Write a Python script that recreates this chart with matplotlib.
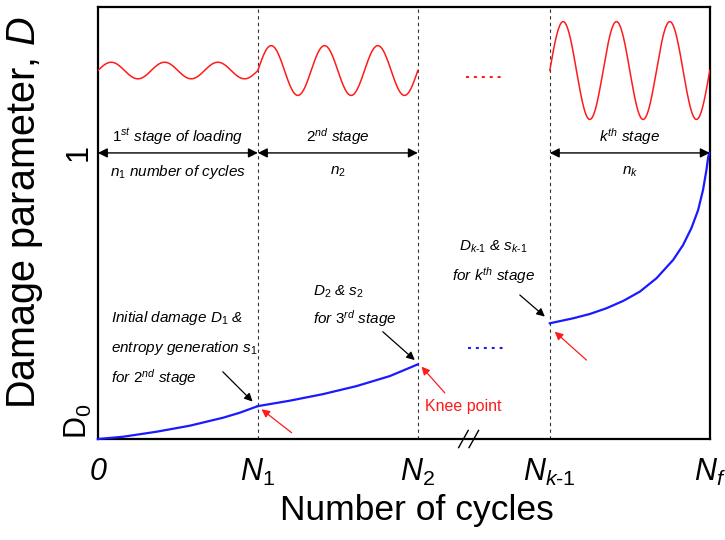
import numpy as np
import matplotlib
matplotlib.use("Agg")
import matplotlib.pyplot as plt
from matplotlib import font_manager

plt.rcParams['font.family'] = ['Liberation Sans', 'DejaVu Sans']
plt.rcParams['mathtext.fontset'] = 'custom'
plt.rcParams['mathtext.rm'] = 'Liberation Sans'
plt.rcParams['mathtext.it'] = 'Liberation Sans:italic'
plt.rcParams['mathtext.bf'] = 'Liberation Sans:bold'

installed = {f.name for f in font_manager.fontManager.ttflist}
has_narrow = 'Liberation Sans Narrow' in installed
label_font = ['Liberation Sans Narrow', 'Liberation Sans'] if has_narrow else ['Liberation Sans']

# ---- data ----
x_ticks = [0.0, 1.0, 2.0, 2.825, 3.825]
x_ticklabels = ['0', r'$\mathit{N_1}$', r'$\mathit{N_2}$',
                r'$\mathit{N_{k\text{-}1}}$', r'$\mathit{N_f}$']
y_ticks = [0.0, 1.0]
y_ticklabels = [r'D$_\mathregular{0}$', '1']

# damage evolution in each loading stage
stage1_x = [0.0, 0.158, 0.367, 0.575, 0.783, 0.8875, 1.0]
stage1_D = [0.0, 0.008, 0.0255, 0.0466, 0.0745, 0.092, 0.115]
stage2_x = [1.0, 1.2, 1.408, 1.617, 1.825, 2.0]
stage2_D = [0.115, 0.134, 0.157, 0.185, 0.22, 0.261]
stagek_x = [2.825, 2.971, 3.075, 3.179, 3.283, 3.3875, 3.492, 3.596,
            3.658, 3.71, 3.752, 3.783, 3.804, 3.815, 3.822]
stagek_D = [0.4045, 0.422, 0.437, 0.457, 0.4825, 0.515, 0.562, 0.626,
            0.678, 0.737, 0.80, 0.871, 0.94, 0.985, 1.0]

# loading waveform of each stage
wave_start = [0.0, 1.0, 2.825]
wave_amp = [0.029, 0.087, 0.171]
wave_cycles = 3
wave_level = 1.288

stage_bounds = [(0.0, 1.0), (1.0, 2.0), (2.825, 3.825)]
x_max, y_max = 3.825, 1.51

fig = plt.figure(figsize=(7.25, 5.4), dpi=100)
ax = fig.add_axes([0.135, 0.187, 0.844, 0.8])
ax.set_xlim(0, x_max)
ax.set_ylim(0, y_max)

for s in ax.spines.values():
    s.set_linewidth(1.6)

# stage boundaries
for xb in x_ticks[1:4]:
    ax.plot([xb, xb], [0, y_max], color='#333333', lw=0.8,
            ls=(0, (3, 3)), zorder=1)

# damage curves
blue = '#1a1aff'
for xs, ds in [(stage1_x, stage1_D), (stage2_x, stage2_D), (stagek_x, stagek_D)]:
    ax.plot(xs, ds, color=blue, lw=1.6, zorder=3, clip_on=False,
            solid_joinstyle='round')

# loading waves
red = '#ff1a1a'
for x0, a in zip(wave_start, wave_amp):
    t = np.linspace(0, 1, 400)
    ax.plot(x0 + t, wave_level + a * np.sin(2 * np.pi * wave_cycles * t),
            color=red, lw=1.1, zorder=3)

# ellipsis for omitted stages
ax.plot([2.304, 2.537], [1.267, 1.267], color=red, lw=1.5,
        ls=(0, (1.4, 2.4)), solid_capstyle='butt')
ax.plot([2.3125, 2.544], [0.317, 0.317], color=blue, lw=1.5,
        ls=(0, (1.4, 2.4)), solid_capstyle='butt')

# stage spans at D = 1
for xa, xb in stage_bounds:
    ax.annotate('', xy=(xb, 1.0), xytext=(xa, 1.0),
                arrowprops=dict(arrowstyle='<|-|>', color='black', lw=1.0,
                                mutation_scale=14, shrinkA=0, shrinkB=0))

fs = 11
ax.text(0.5, 1.057, r'$\mathit{1^{st}}$ stage of loading', ha='center', va='center',
        fontsize=fs, style='italic')
ax.text(1.5, 1.057, r'$\mathit{2^{nd}}$ stage', ha='center', va='center',
        fontsize=fs, style='italic')
ax.text(3.325, 1.057, r'$\mathit{k^{th}}$ stage', ha='center', va='center',
        fontsize=fs, style='italic')
ax.text(0.5, 0.935, r'$\mathit{n_1}$ number of cycles', ha='center', va='center',
        fontsize=fs, style='italic')
ax.text(1.5, 0.935, r'$\mathit{n_2}$', ha='center', va='center',
        fontsize=fs, style='italic')
ax.text(3.325, 0.935, r'$\mathit{n_k}$', ha='center', va='center',
        fontsize=fs, style='italic')

ax.text(0.081, 0.423, r'Initial damage $\mathit{D_1}$ &', ha='left', va='center',
        fontsize=fs, style='italic')
ax.text(0.081, 0.318, r'entropy generation $\mathit{s_1}$', ha='left', va='center',
        fontsize=fs, style='italic')
ax.text(0.081, 0.214, r'for $\mathit{2^{nd}}$ stage', ha='left', va='center',
        fontsize=fs, style='italic')
ax.text(1.342, 0.515, r'$\mathit{D_2}$ & $\mathit{s_2}$', ha='left', va='center',
        fontsize=fs, style='italic')
ax.text(1.342, 0.422, r'for $\mathit{3^{rd}}$ stage', ha='left', va='center',
        fontsize=fs, style='italic')
ax.text(2.475, 0.672, r'$\mathit{D_{k\text{-}1}}$ & $\mathit{s_{k\text{-}1}}$',
        ha='center', va='center', fontsize=fs, style='italic')
ax.text(2.475, 0.573, r'for $\mathit{k^{th}}$ stage', ha='center', va='center',
        fontsize=fs, style='italic')
ax.text(2.044, 0.113, 'Knee point', ha='left', va='center', fontsize=11.5,
        color=red)

# pointer arrows
black_arrows = [((0.781, 0.235), (0.967, 0.131)),
                ((1.781, 0.375), (1.981, 0.276)),
                ((2.6375, 0.5035), (2.794, 0.428))]
red_arrows = [((1.211, 0.022), (1.023, 0.104)),
              ((2.169, 0.161), (2.023, 0.253)),
              ((3.054, 0.276), (2.856, 0.375))]
for (x0, y0), (x1, y1) in black_arrows:
    ax.annotate('', xy=(x1, y1), xytext=(x0, y0),
                arrowprops=dict(arrowstyle='-|>', color='black', lw=0.9,
                                mutation_scale=12, shrinkA=0, shrinkB=0))
for (x0, y0), (x1, y1) in red_arrows:
    ax.annotate('', xy=(x1, y1), xytext=(x0, y0),
                arrowprops=dict(arrowstyle='-|>', color=red, lw=0.9,
                                mutation_scale=12, shrinkA=0, shrinkB=0))

# axis break marks
for xb in [2.255, 2.32]:
    ax.plot([xb, xb + 0.06], [-0.03, 0.03], color='black', lw=1.0,
            clip_on=False, zorder=5)

# axes ticks and labels
ax.set_xticks(x_ticks)
ax.set_xticklabels(x_ticklabels, fontsize=22)
ax.get_xticklabels()[0].set_fontstyle('italic')
ax.set_yticks(y_ticks)
ax.set_yticklabels(y_ticklabels, fontsize=22, rotation=90, va='center')
ax.get_yticklabels()[0].set_va('bottom')
ax.tick_params(axis='x', length=0, pad=13)
ax.tick_params(axis='y', length=0, pad=3)

ax.set_xlabel('Number of cycles', fontsize=29 if has_narrow else 25.5,
              family=label_font)
ax.xaxis.set_label_coords(0.522, -0.128)
ax.set_ylabel(r'Damage parameter, $\mathit{D}$', fontsize=28.5)
ax.yaxis.set_label_coords(-0.086, 0.525)

fig.savefig('out.png', dpi=100)
